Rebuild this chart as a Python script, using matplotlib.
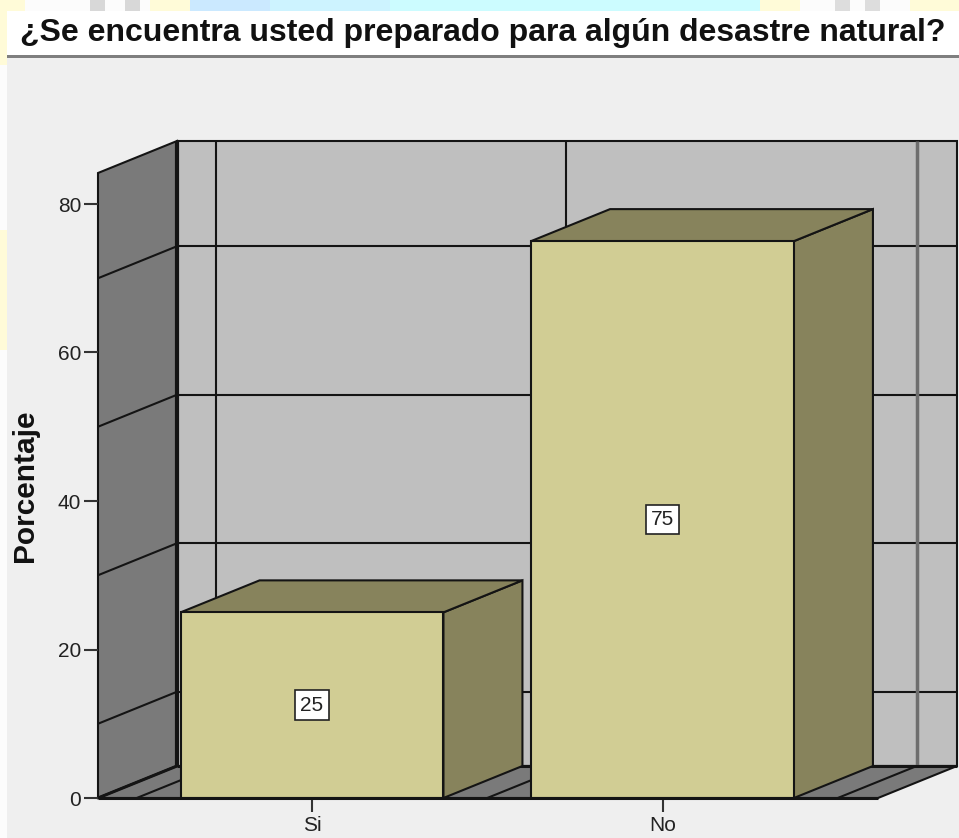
import matplotlib
matplotlib.use("Agg")
import matplotlib.pyplot as plt
from matplotlib.patches import Polygon, Rectangle

plt.rcParams["font.family"] = ["Liberation Sans", "DejaVu Sans"]

categories = ["Si", "No"]
values = [25, 75]
y_ticks = [0, 20, 40, 60, 80]
grid_levels = [10, 30, 50, 70]
title = "¿Se encuentra usted preparado para algún desastre natural?"
y_label = "Porcentaje"

W, H = 959, 838
WALL_SIDE = "#7A7A7A"
WALL_BACK = "#BFBFBF"
BAR_FRONT = "#D1CD94"
BAR_SHADE = "#87835C"
LINE = "#141414"
BAR_WIDTH = 0.75
# depth of the fake 3d box, in data units
DX = 79 / 350.5
DY = 32 / 7.425
X_MIN = -(312 - 98) / 350.5
X_MAX = (878 - 312) / 350.5
Y_MAX = (798 - 173) / 7.425

fig = plt.figure(figsize=(W / 100, H / 100), dpi=100, facecolor="#FCFCFC")


def page_rect(x, y, w, h, color):
    # x, y are pixels from the top left of the picture
    fig.add_artist(Rectangle((x / W, 1 - (y + h) / H), w / W, h / H, transform=fig.transFigure, color=color, lw=0))


# page behind the chart
page_rect(0, 0, 25, 11, "#FFFBD8")
page_rect(90, 0, 15, 11, "#D8D8D8")
page_rect(125, 0, 15, 11, "#D8D8D8")
page_rect(150, 0, 40, 11, "#FFFBD8")
page_rect(190, 0, 80, 11, "#CBE9FF")
page_rect(270, 0, 120, 11, "#CDF3FF")
page_rect(390, 0, 370, 11, "#CCFCFF")
page_rect(760, 0, 40, 11, "#FFFBD8")
page_rect(835, 0, 15, 11, "#DDDDDD")
page_rect(865, 0, 15, 11, "#DDDDDD")
page_rect(910, 0, 49, 11, "#FFFBD8")
page_rect(0, 0, 7, 65, "#FFFBD8")
page_rect(0, 230, 7, 120, "#FFFBD8")
page_rect(7, 58, W - 7, H - 58, "#EFEFEF")
page_rect(7, 11, W - 7, 44, "white")
page_rect(7, 55, W - 7, 3, "#7F7F7F")
fig.text(20 / W, 1 - 33 / H, title, fontsize=23, fontweight="bold", color="#111111", va="center", ha="left")

ax = fig.add_axes([98 / W, 1 - 798 / H, 780 / W, 625 / H])
ax.set_zorder(5)
ax.set_xlim(X_MIN, X_MAX)
ax.set_ylim(0, Y_MAX)
ax.patch.set_visible(False)
for s in ax.spines.values():
    s.set_visible(False)


def poly(pts, color, z, lw=1.5):
    ax.add_patch(Polygon(pts, closed=True, facecolor=color, edgecolor=LINE, lw=lw, zorder=z, clip_on=False, joinstyle="miter"))


def line(xs, ys, z=2, color=LINE, lw=1.5):
    ax.plot(xs, ys, color=color, lw=lw, zorder=z, clip_on=False, solid_capstyle="butt")


# walls and floor
poly([(X_MIN, 0), (X_MIN + DX, DY), (X_MIN + DX, Y_MAX + DY), (X_MIN, Y_MAX)], WALL_SIDE, 1)
poly([(X_MIN + DX, DY), (X_MAX + DX, DY), (X_MAX + DX, Y_MAX + DY), (X_MIN + DX, Y_MAX + DY)], WALL_BACK, 1)
poly([(X_MIN, 0), (X_MAX, 0), (X_MAX + DX, DY), (X_MIN + DX, DY)], WALL_SIDE, 1)

# grid on the walls
for t in grid_levels:
    line([X_MIN, X_MIN + DX], [t, t + DY])
    line([X_MIN + DX, X_MAX + DX], [t + DY, t + DY])
for b in [-0.5, 0.5, 1.5]:
    c = LINE if b < 1.5 else "#6E6E6E"
    w = 1.5 if b < 1.5 else 2.5
    line([b + DX, b + DX], [DY, Y_MAX + DY], color=c, lw=w)
    line([b, b + DX], [0, DY])
line([X_MIN + DX, X_MIN + DX], [0 + DY, Y_MAX + DY], z=3, lw=3)
line([X_MIN, X_MIN + DX], [0, DY], z=3, lw=2.2)
line([X_MIN + DX, X_MAX + DX], [DY, DY], z=3, lw=2.2)

# bars
for i, v in enumerate(values):
    x0 = i - BAR_WIDTH / 2
    x1 = i + BAR_WIDTH / 2
    poly([(x1, 0), (x1 + DX, DY), (x1 + DX, v + DY), (x1, v)], BAR_SHADE, 5)
    poly([(x0, v), (x1, v), (x1 + DX, v + DY), (x0 + DX, v + DY)], BAR_SHADE, 5)
    ax.bar(i, v, width=BAR_WIDTH, color=BAR_FRONT, edgecolor=LINE, lw=1.5, zorder=6, clip_on=False)
    ax.text(i, v / 2, str(v), ha="center", va="center", fontsize=15, color="#222222", zorder=7,
            bbox=dict(boxstyle="square,pad=0.25", facecolor="white", edgecolor="#222222", lw=1.2))

line([X_MIN, X_MAX], [0, 0], z=8, lw=2.2)

ax.set_xticks(range(len(categories)), categories)
ax.set_yticks(y_ticks)
ax.tick_params(axis="both", length=10, width=1.5, color="#333333", labelcolor="#222222", labelsize=15)
ax.tick_params(axis="y", pad=2)
ax.tick_params(axis="x", pad=3)
fig.text(25 / W, 1 - 486 / H, y_label, rotation=90, fontsize=21.5, fontweight="bold", color="#111111", va="center", ha="center")

fig.savefig("out.png", dpi=100, facecolor=fig.get_facecolor())
